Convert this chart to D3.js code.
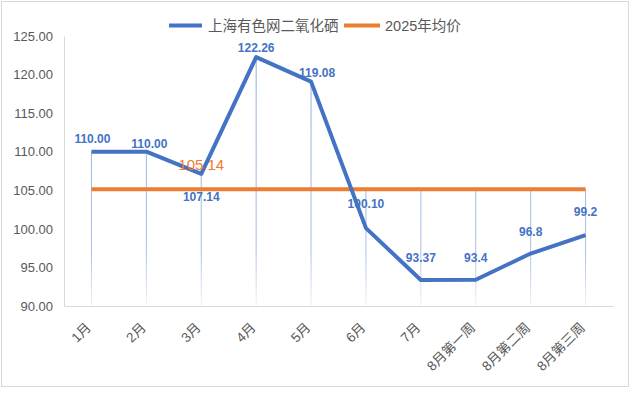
<!DOCTYPE html>
<html>
<head>
<meta charset="utf-8">
<script src="https://cdn.jsdelivr.net/npm/d3@7"></script>
<style>
  html, body { margin: 0; padding: 0; background: #fff; }
  svg { display: block; }
</style>
</head>
<body>
<svg id="chart"></svg>
<script>
// Data
const categories = ["1月", "2月", "3月", "4月", "5月", "6月", "7月", "8月第一周", "8月第二周", "8月第三周"];
const seValues   = [110.00, 110.00, 107.14, 122.26, 119.08, 100.10, 93.37, 93.4, 96.8, 99.2];
const seLabels   = ["110.00", "110.00", "107.14", "122.26", "119.08", "100.10", "93.37", "93.4", "96.8", "99.2"];
const avgValue   = 105.14;
const yTicks     = [90, 95, 100, 105, 110, 115, 120, 125];
const seriesNames = ["上海有色网二氧化硒", "2025年均价"];

// Layout
const W = 632, H = 397;
const plot = { left: 64, right: 613, top: 36, bottom: 306 };
const blue = "#4472C4", orange = "#ED7D31", grey = "#595959", axisGrey = "#d9d9d9";
const font = "'Liberation Sans', 'Noto Sans CJK SC', sans-serif";

// label offset above point (negative = above), tweaked to the picture
const labelDy = [-9, -4, 27, -5, -5, -20, -18, -18, -18, -19];
const labelDx = [1, 3, 0, 0, 6, 0, 0, 0, 0, 0];

const svg = d3.select("#chart").attr("width", W).attr("height", H);

svg.append("rect")
    .attr("x", 1.5).attr("y", 1.5)
    .attr("width", 627).attr("height", 385)
    .attr("fill", "#fff")
    .attr("stroke", axisGrey);

// Scales
const x = d3.scaleBand().domain(categories).range([plot.left, plot.right]).paddingInner(0).paddingOuter(0);
const cx = c => x(c) + x.bandwidth() / 2;
const y = d3.scaleLinear().domain([90, 125]).range([plot.bottom, plot.top]);

// gradient for drop lines
const grad = svg.append("defs").append("linearGradient")
    .attr("id", "dropGrad")
    .attr("gradientUnits", "userSpaceOnUse")
    .attr("x1", 0).attr("x2", 0)
    .attr("y1", plot.top).attr("y2", plot.bottom);
grad.append("stop").attr("offset", "0%").attr("stop-color", "#8FAADC");
grad.append("stop").attr("offset", "80%").attr("stop-color", "#a9bfe6");
grad.append("stop").attr("offset", "100%").attr("stop-color", "#eef2fa");

// Axes
const yAxis = svg.append("g")
    .attr("transform", `translate(${plot.left},0)`)
    .call(d3.axisLeft(y).tickValues(yTicks).tickFormat(d3.format(".2f")).tickSize(0).tickPadding(11));
yAxis.select(".domain").attr("stroke", axisGrey);
yAxis.selectAll("text")
    .attr("fill", grey)
    .attr("font-family", font)
    .attr("font-size", "13px");

const xAxis = svg.append("g")
    .attr("transform", `translate(0,${plot.bottom})`)
    .call(d3.axisBottom(x).tickSize(0).tickFormat(""));
xAxis.select(".domain").attr("stroke", axisGrey);

// rotated category labels
svg.append("g").selectAll("text")
    .data(categories)
    .join("text")
    .attr("transform", d => `translate(${cx(d) - 3},${plot.bottom + 19}) rotate(-45)`)
    .attr("text-anchor", "end")
    .attr("dy", "0.35em")
    .attr("fill", grey)
    .attr("font-family", font)
    .attr("font-size", "13.5px")
    .text(d => d);

// Drop lines (from the higher of the two series down to the axis)
svg.append("g").selectAll("line")
    .data(categories)
    .join("line")
    .attr("x1", d => cx(d)).attr("x2", d => cx(d))
    .attr("y1", (d, i) => y(Math.max(seValues[i], avgValue)))
    .attr("y2", plot.bottom)
    .attr("stroke", "url(#dropGrad)")
    .attr("stroke-width", 1);

// Average line
svg.append("path")
    .datum(categories)
    .attr("fill", "none")
    .attr("stroke", orange)
    .attr("stroke-width", 4)
    .attr("d", d3.line().x(d => cx(d)).y(() => y(avgValue)));

// Main series
svg.append("path")
    .datum(categories)
    .attr("fill", "none")
    .attr("stroke", blue)
    .attr("stroke-width", 4)
    .attr("stroke-linejoin", "round")
    .attr("d", d3.line().x(d => cx(d)).y((d, i) => y(seValues[i])));

// Data labels
svg.append("g").selectAll("text")
    .data(categories)
    .join("text")
    .attr("x", (d, i) => cx(d) + labelDx[i])
    .attr("y", (d, i) => y(seValues[i]) + labelDy[i])
    .attr("text-anchor", "middle")
    .attr("fill", blue)
    .attr("font-family", font)
    .attr("font-weight", "bold")
    .attr("font-size", "12px")
    .text((d, i) => seLabels[i]);

// Average label
svg.append("text")
    .attr("x", cx(categories[2]))
    .attr("y", y(avgValue) - 19)
    .attr("text-anchor", "middle")
    .attr("fill", orange)
    .attr("font-family", font)
    .attr("font-size", "15px")
    .text(avgValue.toFixed(2));

// Legend
const legend = svg.append("g").attr("font-family", font).attr("font-size", "14.5px").attr("fill", grey);
legend.append("line").attr("x1", 169).attr("x2", 202).attr("y1", 25.5).attr("y2", 25.5)
    .attr("stroke", blue).attr("stroke-width", 4);
legend.append("text").attr("x", 208).attr("y", 25.5).attr("dy", "0.35em").text(seriesNames[0]);
legend.append("line").attr("x1", 344).attr("x2", 380).attr("y1", 25.5).attr("y2", 25.5)
    .attr("stroke", orange).attr("stroke-width", 4);
legend.append("text").attr("x", 385).attr("y", 25.5).attr("dy", "0.35em").text(seriesNames[1]);
</script>
</body>
</html>
